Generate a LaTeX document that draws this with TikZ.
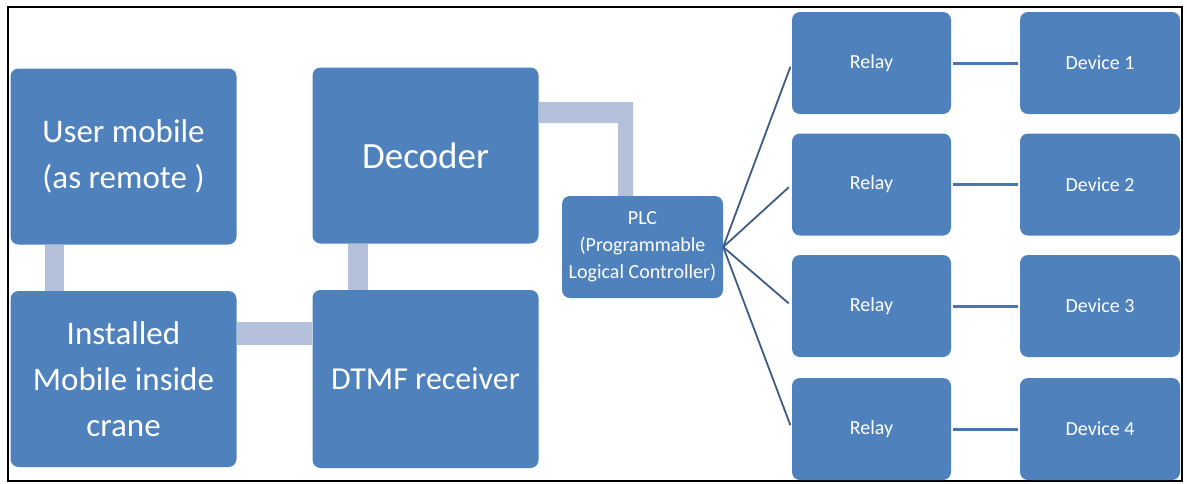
\documentclass[tikz,border=0pt]{standalone}
\usepackage{fontspec}
\setmainfont{Carlito}
\usetikzlibrary{calc}
\definecolor{boxblue}{HTML}{4F81BD}
\definecolor{barblue}{HTML}{B5C1DB}
\definecolor{wireblue}{HTML}{3E5C85}
\definecolor{linkblue}{HTML}{4677B3}
\tikzset{
  blk/.style={fill=boxblue, draw=none, rounded corners=8pt, text=white,
    align=center, inner sep=0pt},
  bigbox/.style={blk, minimum width=226pt, minimum height=176pt},
  relaybox/.style={blk, minimum width=159pt, minimum height=102pt,
    font=\fontsize{20}{24}\selectfont},
  bar/.style={draw=barblue, line cap=butt},
  wire/.style={draw=wireblue, line width=1.8pt, shorten >=4pt},
  link/.style={draw=linkblue, line width=3pt, shorten <=2pt, shorten >=2pt},
}
\begin{document}
\begin{tikzpicture}[x=1pt, y=-1pt]
\useasboundingbox (0,0) rectangle (1187,483);
% outer frame
\draw[line width=2pt] (8,7) rectangle (1182,481);

% blocks of the receiving side
\node[bigbox, font=\fontsize{33}{46}\selectfont] (um) at (123.5,156.5) {User mobile\\(as remote )};
\node[bigbox, font=\fontsize{33}{46}\selectfont] (im) at (123.5,379) {Installed\\Mobile inside\\crane};
\node[bigbox, font=\fontsize{37}{44}\selectfont] (dec) at (425.5,155.5) {Decoder};
\node[bigbox, font=\fontsize{32}{40}\selectfont, minimum height=178pt] (dtmf) at (425.5,379) {DTMF receiver};
\node[blk, minimum width=161pt, minimum height=102pt, font=\fontsize{20}{27}\selectfont] (plc) at (642.5,247)
  {PLC\\(Programmable\\Logical Controller)};

% relays and devices
\foreach \i/\y in {1/63,2/184.5,3/306,4/429}{
  \node[relaybox] (r\i) at (871.5,\y) {Relay};
  \node[relaybox, minimum width=160pt] (d\i) at (1100,\y) {Device \i};
}

% thick links between the blocks
\coordinate (xa) at (54.5,0);
\coordinate (xb) at (358,0);
\coordinate (yc) at (0,333.5);
\draw[bar, line width=19pt] (um.south -| xa) -- (im.north -| xa);
\draw[bar, line width=20pt] (dec.south -| xb) -- (dtmf.north -| xb);
\draw[bar, line width=23pt] (im.east |- yc) -- (dtmf.west |- yc);

% elbow from the decoder down to the PLC
\coordinate (e1) at (0,102);
\coordinate (e2) at (0,123);
\coordinate (e3) at (633,0);
\coordinate (e4) at (618,0);
\fill[barblue] (dec.east |- e1) -- (e3 |- e1) -- (e3 |- plc.north) -- (e4 |- plc.north)
  -- (e4 |- e2) -- (dec.east |- e2) -- cycle;

% PLC fan-out to the relays
\foreach \i in {1,...,4}{
  \draw[wire] (plc.east) -- (r\i.west);
  \draw[link] (r\i.east) -- (d\i.west);
}
\end{tikzpicture}
\end{document}
